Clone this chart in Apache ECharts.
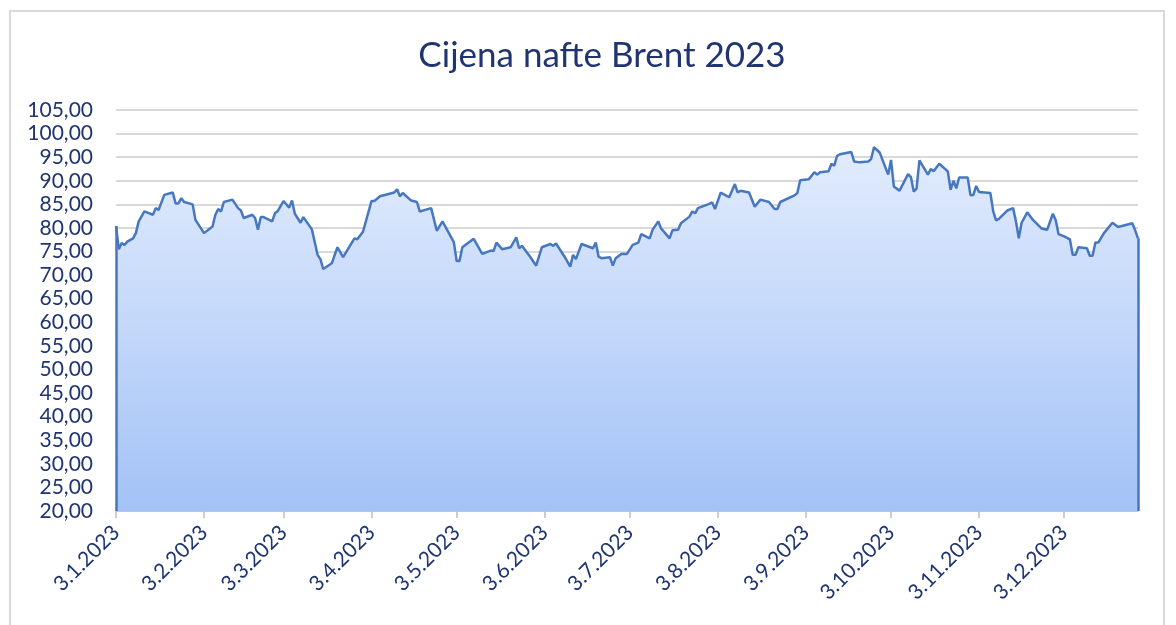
<!DOCTYPE html>
<html>
<head>
<meta charset="utf-8">
<title>Cijena nafte Brent 2023</title>
<script src="https://cdn.jsdelivr.net/npm/echarts@6/dist/echarts.min.js"></script>
<style>
  html, body { margin: 0; padding: 0; background: #fff; overflow: hidden; }
  #frame { position: absolute; left: 9px; top: 10px; width: 1156px; height: 700px; border: 2px solid #d9d9d9; box-sizing: border-box; }
  #chart { position: absolute; left: 0; top: 0; width: 1176px; height: 625px; }
</style>
</head>
<body>
<div id="frame"></div>
<div id="chart"></div>
<script>
// trading dates (approximate)
const dates = [
  '2023-01-03', '2023-01-04', '2023-01-05', '2023-01-06', '2023-01-07', '2023-01-09', '2023-01-10', '2023-01-11',
  '2023-01-13', '2023-01-16', '2023-01-17', '2023-01-18', '2023-01-20', '2023-01-23', '2023-01-24', '2023-01-25',
  '2023-01-26', '2023-01-27', '2023-01-30', '2023-01-31', '2023-02-03', '2023-02-06', '2023-02-07', '2023-02-08',
  '2023-02-09', '2023-02-10', '2023-02-13', '2023-02-15', '2023-02-16', '2023-02-17', '2023-02-20', '2023-02-21',
  '2023-02-22', '2023-02-23', '2023-02-24', '2023-02-27', '2023-02-28', '2023-03-01', '2023-03-03', '2023-03-05',
  '2023-03-06', '2023-03-07', '2023-03-09', '2023-03-10', '2023-03-13', '2023-03-15', '2023-03-16', '2023-03-17',
  '2023-03-20', '2023-03-22', '2023-03-24', '2023-03-28', '2023-03-29', '2023-03-31', '2023-04-03', '2023-04-04',
  '2023-04-06', '2023-04-11', '2023-04-12', '2023-04-13', '2023-04-14', '2023-04-17', '2023-04-19', '2023-04-20',
  '2023-04-24', '2023-04-26', '2023-04-28', '2023-05-02', '2023-05-03', '2023-05-04', '2023-05-05', '2023-05-09',
  '2023-05-12', '2023-05-15', '2023-05-16', '2023-05-17', '2023-05-19', '2023-05-22', '2023-05-24', '2023-05-25',
  '2023-05-26', '2023-05-29', '2023-05-31', '2023-06-02', '2023-06-05', '2023-06-06', '2023-06-07', '2023-06-10',
  '2023-06-12', '2023-06-13', '2023-06-14', '2023-06-16', '2023-06-20', '2023-06-21', '2023-06-22', '2023-06-23',
  '2023-06-26', '2023-06-27', '2023-06-28', '2023-06-30', '2023-07-02', '2023-07-04', '2023-07-06', '2023-07-07',
  '2023-07-10', '2023-07-11', '2023-07-13', '2023-07-14', '2023-07-17', '2023-07-18', '2023-07-20', '2023-07-21',
  '2023-07-24', '2023-07-25', '2023-07-26', '2023-07-27', '2023-07-31', '2023-08-01', '2023-08-02', '2023-08-04',
  '2023-08-07', '2023-08-09', '2023-08-10', '2023-08-11', '2023-08-14', '2023-08-16', '2023-08-18', '2023-08-21',
  '2023-08-23', '2023-08-24', '2023-08-25', '2023-08-30', '2023-08-31', '2023-09-01', '2023-09-04', '2023-09-06',
  '2023-09-07', '2023-09-08', '2023-09-11', '2023-09-12', '2023-09-13', '2023-09-14', '2023-09-15', '2023-09-19',
  '2023-09-20', '2023-09-22', '2023-09-25', '2023-09-26', '2023-09-27', '2023-09-29', '2023-10-02', '2023-10-03',
  '2023-10-04', '2023-10-06', '2023-10-09', '2023-10-10', '2023-10-11', '2023-10-12', '2023-10-13', '2023-10-16',
  '2023-10-17', '2023-10-18', '2023-10-20', '2023-10-23', '2023-10-24', '2023-10-25', '2023-10-26', '2023-10-27',
  '2023-10-30', '2023-10-31', '2023-11-01', '2023-11-02', '2023-11-03', '2023-11-07', '2023-11-08', '2023-11-09',
  '2023-11-10', '2023-11-13', '2023-11-15', '2023-11-16', '2023-11-17', '2023-11-18', '2023-11-20', '2023-11-22',
  '2023-11-25', '2023-11-27', '2023-11-29', '2023-11-30', '2023-12-01', '2023-12-03', '2023-12-05', '2023-12-06',
  '2023-12-07', '2023-12-08', '2023-12-11', '2023-12-12', '2023-12-13', '2023-12-14', '2023-12-15', '2023-12-17',
  '2023-12-20', '2023-12-22', '2023-12-27', '2023-12-28', '2023-12-29'
];

const prices = [
  80.4, 75.5, 76.8, 76.4, 77.1, 77.8, 78.9, 81.4,
  83.5, 82.8, 84.2, 83.8, 87.0, 87.5, 85.2, 85.2,
  86.3, 85.5, 85.0, 81.7, 78.9, 80.3, 82.8, 84.0,
  83.5, 85.5, 86.0, 84.2, 83.7, 82.1, 82.8, 82.1,
  79.6, 82.3, 82.3, 81.4, 83.1, 83.6, 85.7, 84.3,
  85.8, 83.0, 81.1, 82.3, 79.7, 74.3, 73.4, 71.3,
  72.5, 75.9, 73.8, 77.8, 77.6, 79.2, 85.7, 85.7,
  86.7, 87.5, 88.2, 86.7, 87.4, 85.8, 85.5, 83.5,
  84.2, 79.4, 81.4, 77.0, 73.0, 73.0, 75.9, 77.7,
  74.5, 75.2, 75.1, 76.9, 75.5, 75.9, 78.0, 75.7,
  76.2, 73.8, 72.0, 75.9, 76.6, 76.2, 76.7, 73.9,
  71.8, 74.3, 73.4, 76.6, 75.7, 76.9, 73.9, 73.6,
  73.8, 72.0, 73.6, 74.5, 74.5, 76.4, 76.9, 78.7,
  77.8, 79.6, 81.4, 79.9, 77.8, 79.5, 79.6, 81.0,
  82.4, 83.5, 83.1, 84.2, 85.1, 85.4, 84.0, 87.5,
  86.5, 89.3, 87.5, 87.9, 87.5, 84.5, 86.0, 85.5,
  84.0, 84.0, 85.5, 86.9, 87.4, 90.1, 90.3, 91.8,
  91.3, 91.8, 92.0, 93.6, 93.2, 95.3, 95.6, 96.1,
  94.1, 93.9, 94.1, 94.6, 97.1, 96.0, 91.3, 94.4,
  88.8, 87.9, 91.4, 90.8, 87.7, 88.4, 94.3, 91.3,
  92.5, 92.0, 93.6, 92.0, 88.1, 90.0, 88.4, 90.7,
  90.7, 86.9, 87.0, 88.9, 87.6, 87.4, 83.5, 81.6,
  81.9, 83.7, 84.2, 81.4, 77.8, 81.1, 83.3, 81.7,
  79.9, 79.6, 83.0, 81.7, 78.7, 78.2, 77.6, 74.3,
  74.3, 75.9, 75.7, 74.1, 74.1, 76.9, 76.9, 78.9,
  81.1, 80.2, 81.0, 79.5, 77.8
];

const yTicks = { min: 20, max: 105, step: 5 };

// every calendar day on the axis, like Excel's date axis
const days = [];
{
  const start = new Date(Date.UTC(2023, 0, 3));
  const end = new Date(Date.UTC(2023, 11, 29));
  for (let d = start; d <= end; d = new Date(d.getTime() + 86400000)) {
    days.push(d.toISOString().slice(0, 10));
  }
}

const navy = '#1f3470';
const font = 'Lato';
const lineBlue = '#4677c0';
const series = dates.map((d, i) => [d, prices[i]]);
const first = series[0];
const last = series[series.length - 1];

const isMonthTick = (idx, val) => val.slice(8, 10) === '03';

const chart = echarts.init(document.getElementById('chart'));
chart.setOption({
  animation: false,
  title: {
    text: 'Cijena nafte Brent 2023',
    left: 597,
    textAlign: 'center',
    top: 33,
    textStyle: { color: navy, fontFamily: font, fontSize: 35, fontWeight: 'normal' }
  },
  grid: { left: 116, right: 38, top: 110, bottom: 114 },
  xAxis: {
    type: 'category',
    data: days,
    boundaryGap: false,
    axisLine: { lineStyle: { color: '#bfbfbf', width: 1.5 } },
    axisTick: { interval: isMonthTick, length: 7, lineStyle: { color: '#bfbfbf', width: 1.5 } },
    axisLabel: {
      interval: isMonthTick,
      rotate: 45,
      margin: 18,
      color: navy,
      fontFamily: font,
      fontSize: 21,
      formatter: v => {
        const p = v.split('-');
        return +p[2] + '.' + (+p[1]) + '.' + p[0];
      }
    },
    splitLine: { show: false }
  },
  yAxis: {
    type: 'value',
    min: yTicks.min,
    max: yTicks.max,
    interval: yTicks.step,
    axisLine: { show: false },
    axisTick: { show: false },
    axisLabel: {
      margin: 23,
      color: navy,
      fontFamily: font,
      fontSize: 21,
      formatter: v => v.toFixed(2).replace('.', ',')
    },
    splitLine: { lineStyle: { color: '#d9d9d9', width: 2 } }
  },
  series: [{
    type: 'line',
    data: series,
    symbol: 'none',
    z: 3,
    lineStyle: { color: lineBlue, width: 2.5 },
    areaStyle: {
      origin: 'start',
      opacity: 1,
      color: new echarts.graphic.LinearGradient(0, 0, 0, 1, [
        { offset: 0, color: '#e2ecfd' },
        { offset: 1, color: '#a3c2f6' }
      ])
    },
    markLine: {
      silent: true,
      symbol: 'none',
      label: { show: false },
      lineStyle: { color: lineBlue, width: 2.5, type: 'solid' },
      data: [
        [{ coord: [first[0], yTicks.min] }, { coord: first }],
        [{ coord: [last[0], yTicks.min] }, { coord: last }]
      ]
    }
  }]
});
</script>
</body>
</html>
